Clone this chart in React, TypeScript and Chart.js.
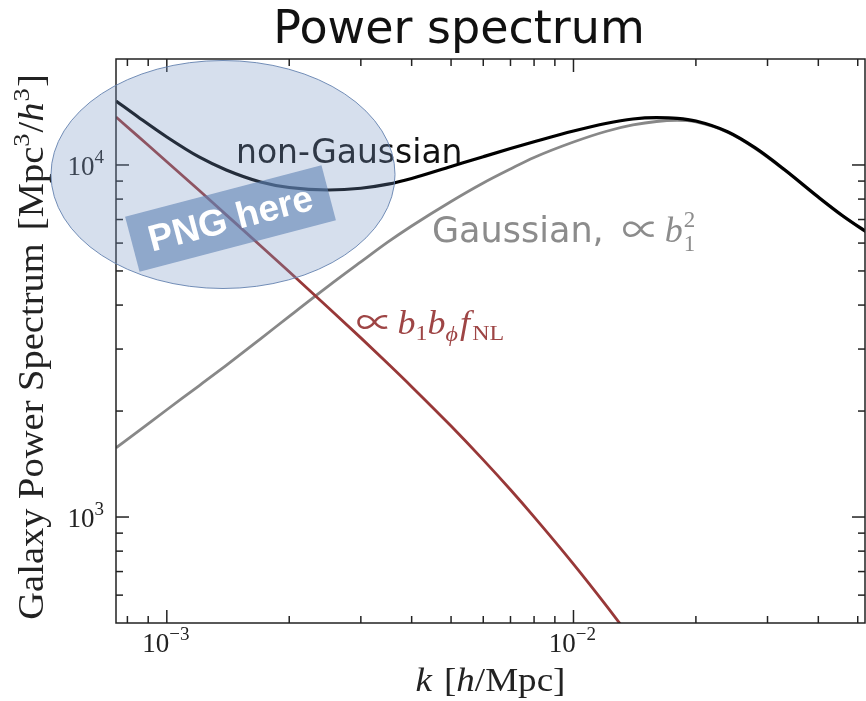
import React, { useEffect, useRef } from "react";
import { Chart, registerables } from "chart.js";

Chart.register(...registerables);

// ---------- DATA ----------
const kValues = [
  7.5e-4, 8.5e-4, 1e-3, 1.2e-3, 1.4e-3, 1.7e-3, 2e-3, 2.5e-3, 3e-3, 3.5e-3, 4e-3, 5e-3, 6e-3, 7e-3,
  8e-3, 1e-2, 1.2e-2, 1.4e-2, 1.6e-2, 1.8e-2, 2e-2, 2.4e-2, 2.8e-2, 3.3e-2, 4e-2, 4.6e-2, 5.3e-2,
];
const nonGaussian = [
  15200, 13690, 12010, 10540, 9680, 8950, 8630, 8490, 8587, 8820, 9156, 9902, 10557, 11133,
  11635, 12484, 13120, 13510, 13630, 13570, 13330, 12410, 11180, 9710, 8110, 7165, 6410,
];
const gaussian = [
  1573, 1752, 2017, 2359, 2697, 3208, 3716, 4535, 5305, 6046, 6710, 7878, 8890, 9742,
  10502, 11620, 12450, 12990, 13290, 13380, 13250, 12370, 11140, 9680, 8086, 7142, 6391,
];
const fnlTerm: (number | null)[] = [
  13690, 12055, 10218, 8472, 7217, 5898, 4973, 3926, 3228, 2724, 2346, 1813, 1453, 1195,
  1001, 735, 563, 445, null, null, null, null, null, null, null, null, null,
];

const xMajorTicks = [1e-3, 1e-2];
const xMajorExponents = ["\u22123", "\u22122"];
const xMinorTicks = [8e-4, 9e-4, 2e-3, 3e-3, 4e-3, 5e-3, 6e-3, 7e-3, 8e-3, 9e-3, 2e-2, 3e-2, 4e-2, 5e-2];
const yMajorTicks = [1e3, 1e4];
const yMajorExponents = ["3", "4"];
const yMinorTicks = [600, 700, 800, 900, 2000, 3000, 4000, 5000, 6000, 7000, 8000, 9000];

const titleText = "Power spectrum";
const nonGaussianLabel = "non-Gaussian";
const gaussianLabel = "Gaussian,";
const overlayText = "PNG here";

// ---------- STYLE ----------
const SERIF = '"Liberation Serif", "DejaVu Serif", serif';
const MATHSYM = '"Noto Sans CJK JP", "DejaVu Serif", serif';
const SANS = '"DejaVu Sans", "Liberation Sans", sans-serif';
const ARIAL = '"Liberation Sans", Arial, sans-serif';
const AXIS_COLOR = "#222222";
const RED = "#983838";
const RED_TEXT = "#9e4545";
const GRAY = "#888888";
const GRAY_TEXT = "#8c8c8c";
const CM_STRETCH = 1.09;

type Seg = {
  t: string;
  f: string;
  dy?: number;
  sup?: { t: string; f: string; dy: number };
  pad?: number;
  sx?: number;
};

function segWidth(ctx: CanvasRenderingContext2D, s: Seg) {
  ctx.font = s.f;
  let w = ctx.measureText(s.t).width * (s.sx || 1);
  if (s.sup) {
    ctx.font = s.sup.f;
    w = Math.max(w, ctx.measureText(s.sup.t).width);
  }
  return w + (s.pad || 0);
}

function drawRich(
  ctx: CanvasRenderingContext2D,
  segs: Seg[],
  x: number,
  y: number,
  align: "left" | "center" | "right",
  color: string,
  sx = 1
) {
  const total = segs.reduce((w, s) => w + segWidth(ctx, s), 0) * sx;
  const startX = align === "left" ? x : align === "center" ? x - total / 2 : x - total;
  ctx.save();
  ctx.translate(startX, y);
  ctx.scale(sx, 1);
  ctx.fillStyle = color;
  ctx.textAlign = "left";
  ctx.textBaseline = "alphabetic";
  let cx = 0;
  for (const s of segs) {
    const w = segWidth(ctx, s);
    ctx.font = s.f;
    if (s.sx && s.sx !== 1) {
      ctx.save();
      ctx.translate(cx, s.dy || 0);
      ctx.scale(s.sx, 1);
      ctx.fillText(s.t, 0, 0);
      ctx.restore();
    } else {
      ctx.fillText(s.t, cx, s.dy || 0);
    }
    if (s.sup) {
      ctx.font = s.sup.f;
      ctx.fillText(s.sup.t, cx, s.sup.dy);
    }
    cx += w;
  }
  ctx.restore();
}

const decorPlugin = {
  id: "decor",
  afterDatasetsDraw(chart: any) {
    const ctx: CanvasRenderingContext2D = chart.ctx;
    const a = chart.chartArea;
    const xs = chart.scales.x;
    const ys = chart.scales.y;
    ctx.save();

    // spines
    ctx.strokeStyle = AXIS_COLOR;
    ctx.lineWidth = 1.5;
    ctx.strokeRect(a.left, a.top, a.right - a.left, a.bottom - a.top);

    const line = (x1: number, y1: number, x2: number, y2: number) => {
      ctx.beginPath();
      ctx.moveTo(x1, y1);
      ctx.lineTo(x2, y2);
      ctx.stroke();
    };
    for (const v of xMajorTicks) {
      const p = xs.getPixelForValue(v);
      line(p, a.bottom, p, a.bottom - 13);
      line(p, a.top, p, a.top + 13);
    }
    for (const v of xMinorTicks) {
      const p = xs.getPixelForValue(v);
      line(p, a.bottom, p, a.bottom - 7);
      line(p, a.top, p, a.top + 7);
    }
    for (const v of yMajorTicks) {
      const p = ys.getPixelForValue(v);
      line(a.left, p, a.left + 13, p);
      line(a.right, p, a.right - 13, p);
    }
    for (const v of yMinorTicks) {
      const p = ys.getPixelForValue(v);
      line(a.left, p, a.left + 7, p);
      line(a.right, p, a.right - 7, p);
    }

    // tick labels
    const base = `27px ${SERIF}`;
    const supF = `19px ${SERIF}`;
    xMajorTicks.forEach((v, i) => {
      const p = xs.getPixelForValue(v);
      drawRich(ctx, [{ t: "10", f: base }, { t: xMajorExponents[i], f: supF, dy: -12 }], p - 1, a.bottom + 29, "center", "#222");
    });
    yMajorTicks.forEach((v, i) => {
      const p = ys.getPixelForValue(v);
      drawRich(ctx, [{ t: "10", f: base }, { t: yMajorExponents[i], f: supF, dy: -12 }], a.left - 12, p + 10, "right", "#222");
    });

    // axis titles
    const tF = `34px ${SERIF}`;
    const tI = `italic 34px ${SERIF}`;
    drawRich(
      ctx,
      [
        { t: "k", f: tI, pad: 11 },
        { t: "[", f: tF },
        { t: "h", f: tI },
        { t: "/Mpc]", f: tF },
      ],
      (a.left + a.right) / 2,
      691,
      "center",
      "#222",
      CM_STRETCH
    );
    const yF = `35px ${SERIF}`;
    const yI = `italic 35px ${SERIF}`;
    const yS = `24px ${SERIF}`;
    ctx.save();
    ctx.translate(43, 347);
    ctx.rotate(-Math.PI / 2);
    drawRich(
      ctx,
      [
        { t: "Galaxy Power Spectrum", f: yF, pad: 12 },
        { t: "[Mpc", f: yF },
        { t: "3", f: yS, dy: -14, pad: 1 },
        { t: "/", f: yF },
        { t: "h", f: yI, pad: 1 },
        { t: "3", f: yS, dy: -14, pad: 1 },
        { t: "]", f: yF },
      ],
      0,
      0,
      "center",
      "#222",
      1.1
    );
    ctx.restore();

    // title
    ctx.font = `46px ${SANS}`;
    ctx.fillStyle = "#111";
    ctx.textAlign = "center";
    ctx.textBaseline = "alphabetic";
    ctx.fillText(titleText, 459, 43);

    // curve labels
    drawRich(ctx, [{ t: nonGaussianLabel, f: `33px ${SANS}` }], 236, 163, "left", "#111");
    drawRich(
      ctx,
      [
        { t: gaussianLabel, f: `35px ${SANS}`, pad: 18 },
        { t: "\u221D", f: `38px ${MATHSYM}`, pad: 5, sx: 1.0, dy: 1 },
        { t: "b", f: `italic 36px ${SERIF}`, pad: 1 },
        { t: "1", f: `23px ${SERIF}`, dy: 9, sup: { t: "2", f: `23px ${SERIF}`, dy: -15 } },
      ],
      432,
      242,
      "left",
      GRAY_TEXT
    );
    drawRich(
      ctx,
      [
        { t: "\u221D", f: `34px ${MATHSYM}`, pad: 4, sx: 1.0, dy: 1 },
        { t: "b", f: `italic 33px ${SERIF}` },
        { t: "1", f: `22px ${SERIF}`, dy: 6 },
        { t: "b", f: `italic 33px ${SERIF}` },
        { t: "\u03D5", f: `italic 22px ${SERIF}`, dy: 7, pad: 2 },
        { t: "f", f: `italic 33px ${SERIF}`, pad: 2 },
        { t: "NL", f: `22px ${SERIF}`, dy: 6 },
      ],
      356,
      334,
      "left",
      RED_TEXT,
      CM_STRETCH
    );

    // overlay ellipse
    ctx.beginPath();
    ctx.ellipse(223, 174.5, 172, 114, 0, 0, Math.PI * 2);
    ctx.fillStyle = "rgba(120,150,195,0.3)";
    ctx.fill();
    ctx.strokeStyle = "rgba(100,130,175,0.9)";
    ctx.lineWidth = 1;
    ctx.stroke();

    // rotated rectangle with text
    ctx.save();
    ctx.translate(230.5, 218.5);
    ctx.rotate((-14.7 * Math.PI) / 180);
    ctx.fillStyle = "rgba(95,130,180,0.6)";
    ctx.fillRect(-101.5, -28.5, 203, 57);
    ctx.fillStyle = "#ffffff";
    ctx.font = `bold 37px ${ARIAL}`;
    ctx.textAlign = "center";
    ctx.textBaseline = "middle";
    ctx.fillText(overlayText, 0, 2);
    ctx.restore();

    ctx.restore();
  },
};

export default function App() {
  const ref = useRef<HTMLCanvasElement>(null);
  useEffect(() => {
    const canvas = ref.current!;
    const pts = (arr: (number | null)[]) =>
      kValues.map((k, i) => ({ x: k, y: arr[i] })).filter((p) => p.y !== null);
    const chart = new Chart(canvas, {
      type: "line",
      data: {
        datasets: [
          {
            label: "non-Gaussian",
            data: pts(nonGaussian) as any,
            borderColor: "#000000",
            borderWidth: 3.2,
            pointRadius: 0,
            cubicInterpolationMode: "monotone",
          },
          {
            label: "fNL term",
            data: pts(fnlTerm) as any,
            borderColor: RED,
            borderWidth: 2.8,
            pointRadius: 0,
            cubicInterpolationMode: "monotone",
          },
          {
            label: "Gaussian",
            data: pts(gaussian) as any,
            borderColor: GRAY,
            borderWidth: 2.8,
            pointRadius: 0,
            cubicInterpolationMode: "monotone",
          },
        ],
      },
      options: {
        responsive: false,
        animation: false,
        devicePixelRatio: 1,
        events: [],
        layout: { padding: { left: 116, right: 1, top: 59, bottom: 78 } },
        plugins: { legend: { display: false }, title: { display: false }, tooltip: { enabled: false } },
        scales: {
          x: { type: "logarithmic", min: 7.5e-4, max: 0.0521, display: false },
          y: { type: "logarithmic", min: 500, max: 20000, display: false },
        },
      },
      plugins: [decorPlugin],
    });
    return () => chart.destroy();
  }, []);
  return (
    <div style={{ position: "absolute", left: 0, top: 0, width: 866, height: 701, background: "#ffffff" }}>
      <canvas ref={ref} width={866} height={701} style={{ display: "block" }} />
    </div>
  );
}
